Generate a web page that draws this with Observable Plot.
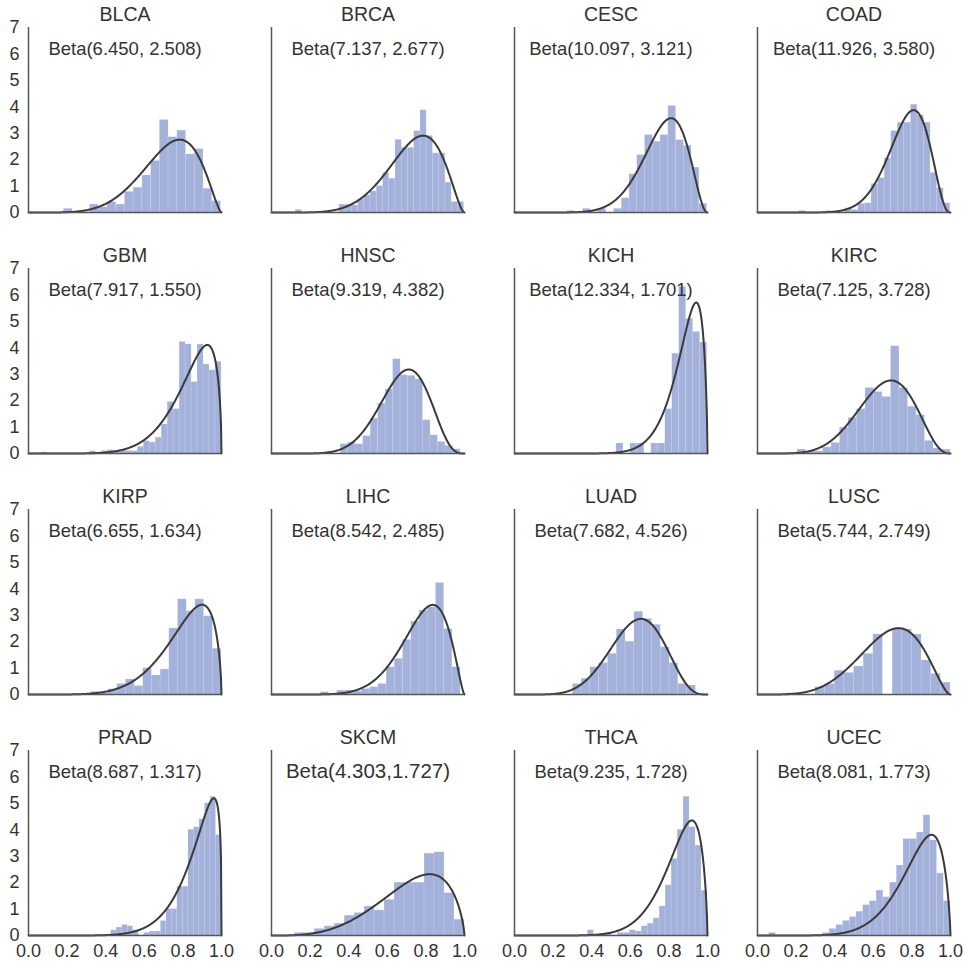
<!DOCTYPE html>
<html><head><meta charset="utf-8">
<script src="https://cdn.jsdelivr.net/npm/d3@7"></script>
<script src="https://cdn.jsdelivr.net/npm/@observablehq/plot@0.6"></script>
<style>
body{margin:0;background:#fff;overflow:hidden;}
#wrap{position:relative;width:964px;height:964px;overflow:hidden;font-family:"Liberation Sans",Arial,sans-serif;}
.cell{position:absolute;width:243px;height:241px;}
.cell svg{max-width:none !important;}
</style></head><body><div id="wrap"></div>
<script>
// ---- data ----
const cancers = ["BLCA","BRCA","CESC","COAD","GBM","HNSC","KICH","KIRC","KIRP","LIHC","LUAD","LUSC","PRAD","SKCM","THCA","UCEC"];
const betaA = [6.450,7.137,10.097,11.926,7.917,9.319,12.334,7.125,6.655,8.542,7.682,5.744,8.687,4.303,9.235,8.081];
const betaB = [2.508,2.677,3.121,3.580,1.550,4.382,1.701,3.728,1.634,2.485,4.526,2.749,1.317,1.727,1.728,1.773];
const betaLabels = ["Beta(6.450, 2.508)","Beta(7.137, 2.677)","Beta(10.097, 3.121)","Beta(11.926, 3.580)",
  "Beta(7.917, 1.550)","Beta(9.319, 4.382)","Beta(12.334, 1.701)","Beta(7.125, 3.728)",
  "Beta(6.655, 1.634)","Beta(8.542, 2.485)","Beta(7.682, 4.526)","Beta(5.744, 2.749)",
  "Beta(8.687, 1.317)","Beta(4.303,1.727)","Beta(9.235, 1.728)","Beta(8.081, 1.773)"];
// histogram range (first bin start, last bin end)
const binLo = [0.183,0.125,0.274,0.216,0.070,0.281,0.528,0.207,0.324,0.255,0.302,0.150,0.428,0.120,0.380,0.060];
const binHi = [0.997,0.998,0.998,0.999,1.000,0.979,0.998,1.000,1.000,0.980,0.940,1.000,1.000,1.000,1.000,1.000];
// bar heights (density) per panel
const hBLCA = [0.14,0,0,0.3,0.2,0.4,0.3,0.78,0.94,1.4,1.95,3.5,2.85,3.1,2.2,2.4,0.9,0.43];
const hBRCA = [0.1,0,0,0,0,0,0,0.3,0.3,0.27,0.5,0.65,0.8,1.0,1.5,1.28,2.75,2.45,2.45,3.08,3.87,2.9,2.24,2.24,1.13,0.4,0.4];
const hCESC = [0.06,0,0.14,0,0.14,0,0.14,0.54,1.45,2.17,2.93,2.68,2.93,4.03,2.74,2.53,1.7,0.33];
const hCOAD = [0.06,0,0,0,0.06,0,0,0.16,0.1,0.33,0.35,1.08,1.3,2.05,3.08,3.4,3.4,4.08,3.68,3.4,1.5,0.92,0.35];
const hGBM  = [0.04,0,0,0,0,0,0,0,0.09,0,0.09,0.13,0.1,0.13,0.1,0.09,0.25,0.47,0.42,0.6,1.1,1.95,1.68,4.22,4.13,2.7,4.13,3.37,3.15,3.47];
const hHNSC = [0.06,0,0.35,0.42,0.35,0.66,1.32,1.89,2.43,3.57,2.96,2.94,2.81,1.26,0.69,0.44,0.29,0.16];
const hKICH = [0.38,0,0.38,0.38,0,0.38,0.38,1.68,3.78,6.3,5.1,4.6,4.2];
const hKIRC = [0.15,0.08,0.08,0.23,0.4,0.98,1.35,1.68,2.48,2.33,2.14,4.06,2.48,1.77,1.45,0.48,0.19,0.15];
const hKIRP = [0.1,0.05,0.2,0.4,0.57,0.32,1.0,0.72,0.95,2.5,3.6,3.15,3.6,2.96,1.73];
const hLIHC = [0.09,0,0.15,0.15,0.12,0.21,0.28,0.4,1.03,1.35,2.07,2.76,3.18,3.3,4.22,2.48,1.03];
const hLUAD = [0.4,0.6,1.03,1.19,1.54,2.46,2.0,3.13,2.86,2.64,1.79,1.19,0.4,0.34];
const hLUSC = [0.05,0,0,0.28,0.4,0.9,0.82,1.06,1.54,2.27,0,2.46,2.46,2.27,1.29,0.78,0.45];
const hPRAD = [0.2,0.3,0.4,0.35,0.2,0,0.1,0.15,0.15,0.55,1.0,1.0,1.85,1.85,4.0,4.1,4.4,5.0,5.25,3.8];
const hSKCM = [0.1,0.1,0.25,0.35,0.45,0.75,0.85,1.1,0.95,1.35,2.0,2.0,2.0,3.1,3.15,1.6,0.6];
const hTHCA = [0.2,0,0,0.1,0,0.1,0.1,0.2,0.15,0.35,0.45,0.65,1.1,1.9,2.9,4.0,5.25,4.1,3.4,1.7];
const hUCEC = [0.1,0,0,0,0,0,0,0,0.1,0.25,0.4,0.55,0.7,0.9,1.15,1.3,1.7,1.45,2.0,2.65,3.65,3.65,3.9,4.55,3.6,2.35,1.3];
const heights = [hBLCA,hBRCA,hCESC,hCOAD,hGBM,hHNSC,hKICH,hKIRC,hKIRP,hLIHC,hLUAD,hLUSC,hPRAD,hSKCM,hTHCA,hUCEC];
const xTicks = [0,0.2,0.4,0.6,0.8,1.0];
const yTicks = [0,1,2,3,4,5,6,7];

// ---- fitted Beta density (from the parameters shown) ----
function lgamma(x){
  const g=7, c=[0.99999999999980993,676.5203681218851,-1259.1392167224028,771.32342877765313,-176.61502916214059,12.507343278686905,-0.13857109526572012,9.9843695780195716e-6,1.5056327351493116e-7];
  if(x<0.5) return Math.log(Math.PI/Math.abs(Math.sin(Math.PI*x))) - lgamma(1-x);
  x-=1; let a=c[0]; const t=x+g+0.5;
  for(let i=1;i<9;i++) a+=c[i]/(x+i);
  return 0.5*Math.log(2*Math.PI)+(x+0.5)*Math.log(t)-t+Math.log(a);
}
function betaPdf(x,a,b){
  if(x<=0||x>=1) return 0;
  const lnB = lgamma(a)+lgamma(b)-lgamma(a+b);
  return Math.exp((a-1)*Math.log(x)+(b-1)*Math.log(1-x)-lnB);
}

// ---- layout ----
const W=243, H=241;
const colLeft=[0,243,486,729];
const rowTop=[0,241,482,723];
const wrap=document.getElementById("wrap");
const ink="#333";

cancers.forEach((name,i)=>{
  const row=Math.floor(i/4), col=i%4;
  const h=heights[i], n=h.length, lo=binLo[i], hi=binHi[i], w=(hi-lo)/n;
  const bins=h.map((v,k)=>({x1:lo+k*w, x2:lo+(k+1)*w, h:v}));
  const curve=d3.range(0,401).map(k=>{const x=k/400; return {x, y:betaPdf(x,betaA[i],betaB[i])};});
  const fs = name==="SKCM" ? 20.5 : 18.5;
  const plot=Plot.plot({
    width:W, height:H,
    marginLeft:28, marginRight:22, marginTop:27, marginBottom:29,
    style:{fontFamily:"'Liberation Sans', Arial, sans-serif", fontSize:"18px", color:ink, background:"transparent", overflow:"visible", maxWidth:"none"},
    x:{domain:[0,1], axis: row===3 ? "bottom" : null, ticks:xTicks, tickFormat:d3.format(".1f"), tickSize:0, tickPadding:9, label:null},
    y:{domain:[0,7], axis: col===0 ? "left" : null, ticks:yTicks, tickFormat:d3.format("d"), tickSize:0, tickPadding:9, label:null},
    marks:[
      Plot.rect(bins,{x1:"x1", x2:"x2", y1:()=>0, y2:"h", fill:"#4a64b8", fillOpacity:0.5, stroke:"#ffffff", strokeOpacity:0.25, strokeWidth:0.6}),
      Plot.line(curve,{x:"x", y:"y", stroke:"#3a3a3a", strokeWidth:2}),
      Plot.ruleX([0],{stroke:"#555", strokeWidth:1.5}),
      Plot.ruleY([0],{stroke:"#555", strokeWidth:1.5}),
      Plot.text([name],{frameAnchor:"top", lineAnchor:"middle", dy:-13, text:d=>d, fontSize:19.5, fill:ink}),
      Plot.text([betaLabels[i]],{x:()=>0.5, y:()=>6.2, text:d=>d, fontSize:fs, fill:ink})
    ]
  });
  const div=document.createElement("div");
  div.className="cell";
  div.style.left=colLeft[col]+"px";
  div.style.top=rowTop[row]+"px";
  div.appendChild(plot);
  wrap.appendChild(div);
});
</script>
</body></html>
